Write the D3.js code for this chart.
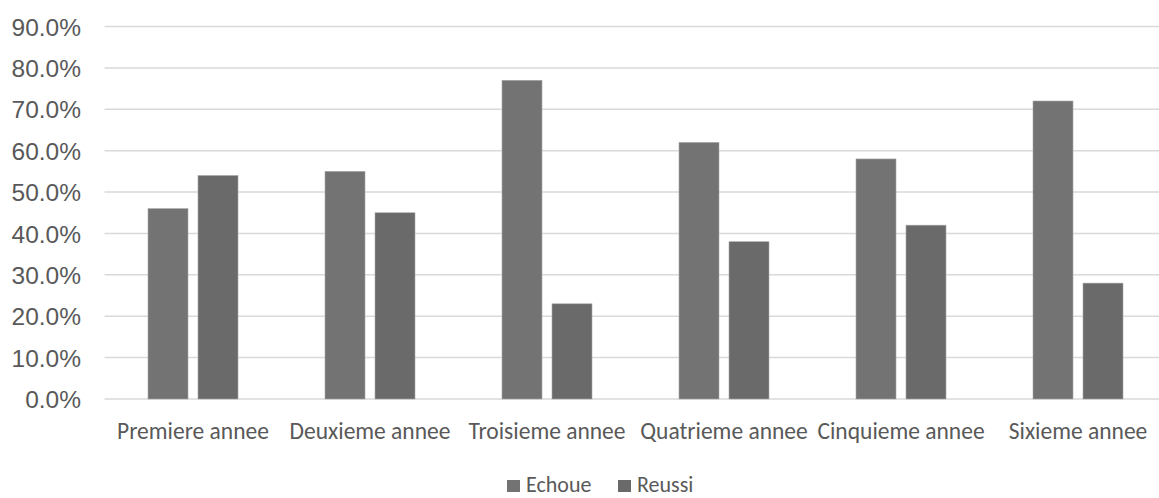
<!DOCTYPE html>
<html>
<head>
<meta charset="utf-8">
<script src="https://cdn.jsdelivr.net/npm/d3@7/dist/d3.min.js"></script>
<style>
  html, body { margin: 0; padding: 0; background: #fff; }
  svg { display: block; }
</style>
</head>
<body>
<script>
// Taux d'échec / de réussite par année
const categories = ["Premiere annee", "Deuxieme annee", "Troisieme annee", "Quatrieme annee", "Cinquieme annee", "Sixieme annee"];
const seriesNames = ["Echoue", "Reussi"];
const echoue = [0.46, 0.55, 0.77, 0.62, 0.58, 0.72];
const reussi = [0.54, 0.45, 0.23, 0.38, 0.42, 0.28];
const yTicks = [0, 0.1, 0.2, 0.3, 0.4, 0.5, 0.6, 0.7, 0.8, 0.9];
const colors = ["#737373", "#6a6a6a"];

const W = 1159, H = 498;
const svg = d3.select("body").append("svg").attr("width", W).attr("height", H);

const plot = { left: 104.5, right: 1166.5, top: 26.5, bottom: 399 };

const x = d3.scaleBand().domain(categories).range([plot.left, plot.right]).paddingInner(0).paddingOuter(0);
const y = d3.scaleLinear().domain([0, 0.9]).range([plot.bottom, plot.top]);

// gridlines
svg.append("g").selectAll("line").data(yTicks).join("line")
  .attr("x1", plot.left).attr("x2", W)
  .attr("y1", d => y(d)).attr("y2", d => y(d))
  .attr("stroke", "#d9d9d9").attr("stroke-width", 1.5);

// y axis labels
const yAxis = d3.axisLeft(y).tickValues(yTicks).tickFormat(d3.format(".1%")).tickSize(0).tickPadding(0);
const yg = svg.append("g").attr("transform", `translate(81,0)`).call(yAxis);
yg.select(".domain").remove();
yg.selectAll("text")
  .attr("font-family", "Liberation Sans, Arial, sans-serif")
  .attr("font-size", 24.5).attr("fill", "#595959").attr("dy", "0.35em");

// bars
const barW = 40, gap = 10;
const data = categories.map((c, i) => ({ c, vals: [echoue[i], reussi[i]] }));
const groups = svg.append("g").selectAll("g").data(data).join("g")
  .attr("transform", d => `translate(${x(d.c) + x.bandwidth() / 2},0)`);
groups.selectAll("rect").data(d => d.vals.map((v, j) => ({ v, j }))).join("rect")
  .attr("x", d => d.j === 0 ? -(barW + gap / 2) : gap / 2)
  .attr("width", barW)
  .attr("y", d => y(d.v))
  .attr("height", d => y(0) - y(d.v))
  .attr("fill", d => colors[d.j])
  .attr("stroke", "#a8a8a8").attr("stroke-width", 0.6);

// x axis labels
const xAxis = d3.axisBottom(x).tickSize(0).tickPadding(0);
const xg = svg.append("g").attr("transform", `translate(0,${plot.bottom})`).call(xAxis);
xg.select(".domain").remove();
xg.selectAll("text")
  .attr("font-family", "Carlito, Lato, sans-serif")
  .attr("font-size", 23.5).attr("fill", "#595959").attr("dy", null).attr("y", 40);

// legend
const legend = svg.append("g");
const legendItems = [{ name: seriesNames[0], x: 507 }, { name: seriesNames[1], x: 618 }];
legendItems.forEach((it, i) => {
  legend.append("rect").attr("x", it.x).attr("y", 480).attr("width", 13).attr("height", 12)
    .attr("fill", colors[i]);
  legend.append("text").attr("x", it.x + 19).attr("y", 492)
    .attr("font-family", "Carlito, Lato, sans-serif").attr("font-size", 22).attr("fill", "#595959")
    .text(it.name);
});
</script>
</body>
</html>
